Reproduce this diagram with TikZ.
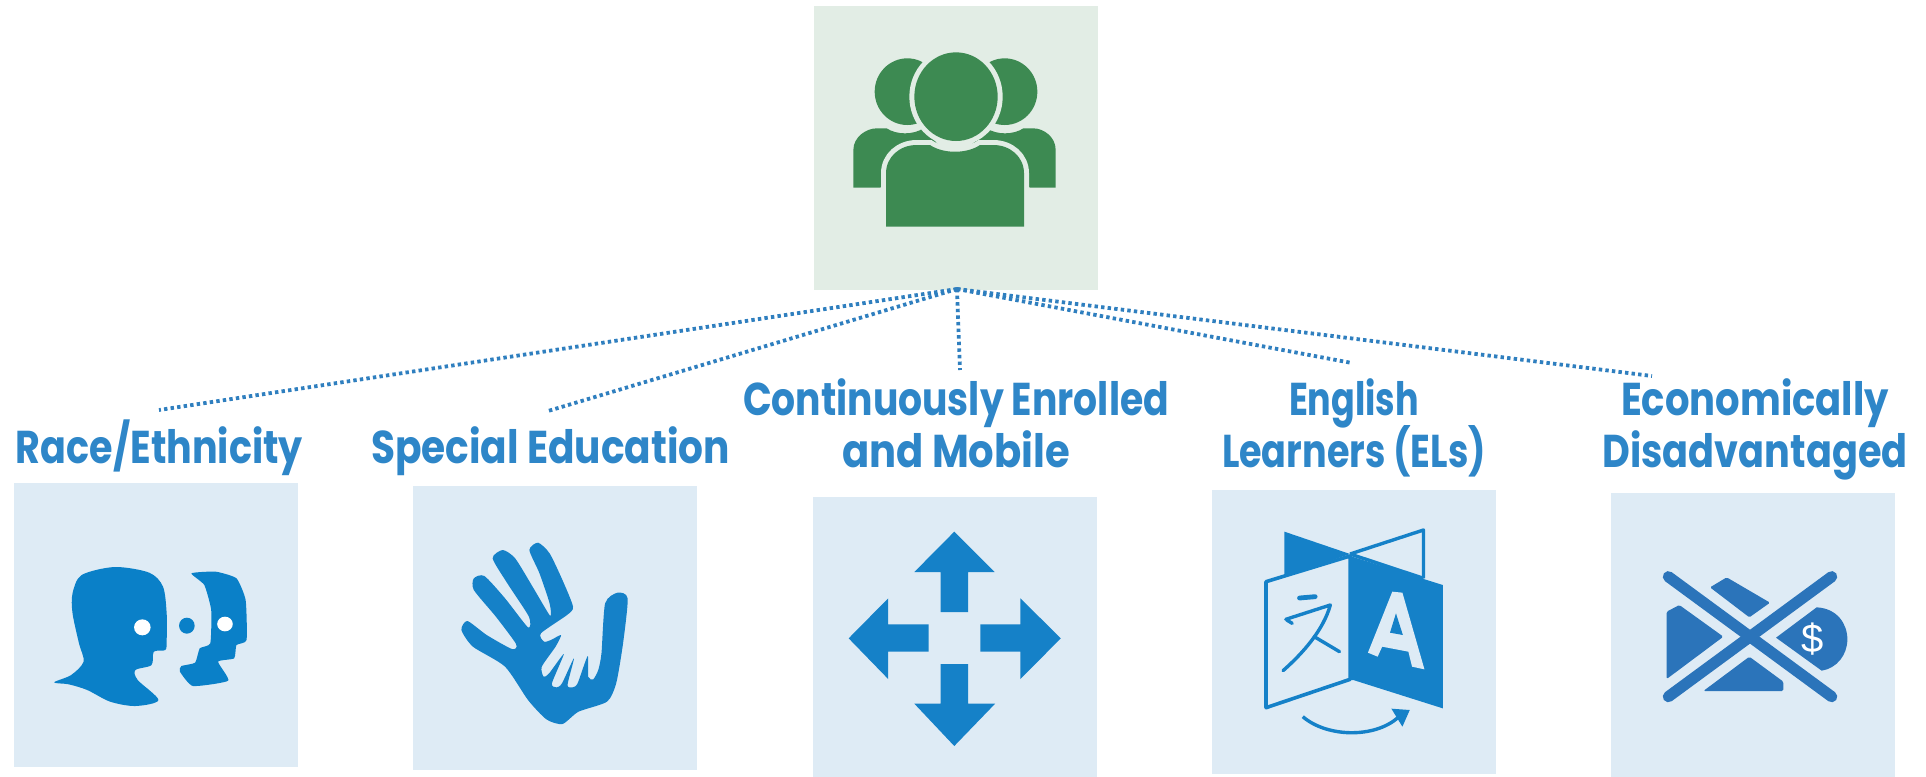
\documentclass[tikz,border=0pt]{standalone}
\usepackage{graphicx}
\usepackage{fontspec}
\setmainfont{Poppins}
\newfontfamily\dollarfont{Liberation Sans}
\definecolor{topbg}{HTML}{E2EDE5}
\definecolor{bluebg}{HTML}{DEEBF5}
\definecolor{peoplegreen}{HTML}{3D8A52}
\definecolor{iconblue}{HTML}{1581C8}
\definecolor{headblue}{HTML}{0A80C8}
\definecolor{econblue}{HTML}{2B74BA}
\definecolor{labelblue}{HTML}{2E86C8}
\definecolor{dotblue}{HTML}{2F7FBF}
\newsavebox\labbox
\newcommand{\fitlab}[2]{\sbox\labbox{#2}\pgfmathsetmacro\labratio{#1*0.5/\the\wd\labbox}\smash{\scalebox{\labratio}[1]{\usebox\labbox}}}
\tikzset{
  iconbox/.style={rectangle,inner sep=0pt,outer sep=0pt,minimum width=142pt,minimum height=142pt,fill=bluebg},
  toplabel/.style={anchor=base,align=center,inner sep=0pt,text=labelblue,font=\fontsize{23pt}{26pt}\selectfont\bfseries},
  dotline/.style={draw=dotblue,line width=1.9pt,dash pattern=on 1.7pt off 1.6pt},
}
\begin{document}
\begin{tikzpicture}[x=0.5pt,y=-0.5pt]
\useasboundingbox (0,0) rectangle (1926,776);
% boxes
\node[iconbox,fill=topbg] (top) at (955.5,148) {};
\node[iconbox] (race) at (155.5,625) {};
\node[iconbox] (sped) at (554.5,628) {};
\node[iconbox] (mob) at (954.5,639) {};
\node[iconbox] (el) at (1353.5,632) {};
\node[iconbox] (econ) at (1753,635) {};
% connectors
\coordinate (apex) at (957,289);
\coordinate (raceend) at (159,410);
\coordinate (spedend) at (548,411);
\coordinate (mobend) at (960,370);
\coordinate (elend) at (1352,363);
\coordinate (econend) at (1652,376);
\draw[dotline] (apex) -- (raceend);
\draw[dotline] (apex) -- (spedend);
\draw[dotline] (apex) -- (mobend);
\draw[dotline] (apex) -- (elend);
\draw[dotline] (apex) -- (econend);
% labels
\node[toplabel] (racelab) at (159.5,463) {\fitlab{287}{Race/Ethnicity}};
\node[toplabel] (spedlab) at (550.5,463) {\fitlab{359}{Special Education}};
\node[toplabel] (moblab) at (956,467) {\fitlab{426}{Continuously Enrolled}\\\fitlab{228}{and Mobile}};
\node[toplabel] (ellab) at (1354,467) {\fitlab{130}{English}\\\fitlab{264}{Learners (ELs)}};
\node[toplabel] (econlab) at (1755,467) {\fitlab{268}{Economically}\\\fitlab{305}{Disadvantaged}};
% people icon
\begin{scope}[shift={(780,0)},x=0.16667pt,y=-0.16667pt]
  \fill[peoplegreen] (382,275) ellipse (98 and 100);
  \fill[peoplegreen] (674,275) ellipse (98 and 100);
  \fill[peoplegreen] (220,563) -- (220,450) .. controls (220,410) and (260,385) .. (290,385) -- (320,385) .. controls (350,405) and (400,405) .. (430,385) -- (480,440) -- (300,563) -- cycle;
  \fill[peoplegreen] (827,563) -- (827,450) .. controls (827,410) and (790,385) .. (760,385) -- (730,385) .. controls (700,405) and (650,405) .. (620,385) -- (570,440) -- (750,563) -- cycle;
  \draw[topbg,line width=5pt] (318,680) -- (318,520) .. controls (318,470) and (360,435) .. (410,435) -- (450,435) .. controls (490,462) and (560,462) .. (600,435) -- (640,435) .. controls (690,435) and (732,470) .. (732,520) -- (732,680);
  \fill[peoplegreen] (318,680) -- (318,520) .. controls (318,470) and (360,435) .. (410,435) -- (450,435) .. controls (490,462) and (560,462) .. (600,435) -- (640,435) .. controls (690,435) and (732,470) .. (732,520) -- (732,680) -- cycle;
  \fill[topbg] (528,290) ellipse (140 and 148);
  \fill[peoplegreen] (528,290) ellipse (125 and 133);
\end{scope}
% heads
\begin{scope}[shift={(0,470)},x=0.22957pt,y=-0.16667pt]
  \fill[headblue] plot[smooth cycle,tension=0.5] coordinates {(118,637) (155,615) (182,575) (172,520) (158,430) (158,370) (178,315) (250,291) (325,308) (355,350) (363,430) (363,510) (360,540) (335,545) (330,585) (295,600) (300,630) (345,690) (295,708) (240,695) (190,660) (150,643)};
  \fill[white] (310,472) ellipse (18 and 24);
  \fill[headblue] (407,467) ellipse (17 and 24);
  \fill[headblue] plot[smooth cycle,tension=0.3] coordinates {(417,310) (470,305) (515,325) (535,390) (537,510) (515,525) (510,565) (475,575) (497,632) (420,648) (392,605) (395,588) (425,578) (435,535) (458,520) (460,420) (445,345)};
  \fill[white] (490,462) ellipse (17 and 22);
% hands
  \fill[iconblue] plot[smooth cycle,tension=0.4] coordinates {(1005,480) (1018,453) (1060,495) (1115,537) (1124,522) (1080,440) (1032,360) (1032,325) (1055,318) (1100,385) (1150,472) (1152,440) (1105,340) (1073,265) (1095,240) (1122,265) (1160,350) (1198,437) (1197,400) (1175,310) (1153,240) (1172,218) (1197,250) (1225,330) (1248,410) (1235,435) (1178,490) (1185,515) (1200,510) (1222,495) (1210,530) (1180,590) (1184,620) (1196,610) (1228,552) (1202,640) (1212,652) (1224,640) (1250,565) (1236,645) (1247,652) (1258,640) (1280,558) (1281,620) (1292,628) (1303,600) (1310,550) (1318,400) (1345,368) (1367,385) (1357,520) (1342,640) (1322,695) (1260,725) (1225,762) (1190,748) (1150,690) (1100,590) (1030,530)};
\end{scope}
% arrows and book
\begin{scope}[shift={(800,480)},x=0.22957pt,y=-0.16667pt]
  \fill[iconblue] (336,155) -- (424,276) -- (366,276) -- (366,396) -- (306,396) -- (306,276) -- (249,276) -- cycle;
  \fill[iconblue] (336,798) -- (425,671) -- (366,671) -- (366,552) -- (306,552) -- (306,671) -- (249,671) -- cycle;
  \fill[iconblue] (106,475) -- (192,355) -- (192,433) -- (280,433) -- (280,515) -- (192,515) -- (192,597) -- cycle;
  \fill[iconblue] (568,475) -- (480,355) -- (480,433) -- (393,433) -- (393,515) -- (480,515) -- (480,597) -- cycle;
  \fill[iconblue] (1055,155) -- (1198,222) -- (1055,290) -- cycle;
  \draw[iconblue,line width=1.7pt,line join=round] (1198,222) -- (1358,150) -- (1358,295);
  \draw[iconblue,line width=1.7pt] (1198,222) -- (1358,295);
  \draw[iconblue,line width=1.8pt,line join=round] (1015,305) -- (1198,228) -- (1198,598) -- (1015,683) -- cycle;
  \fill[iconblue] (1198,228) -- (1400,315) -- (1400,685) -- (1205,600) -- (1198,600) -- cycle;
  \fill[bluebg] (1290,335) -- (1312,338) -- (1360,568) -- (1333,560) -- (1325,515) -- (1268,500) -- (1258,530) -- (1237,518) -- cycle;
  \fill[iconblue] (1298,400) -- (1285,458) -- (1313,465) -- cycle;
  \draw[iconblue,line width=2.4pt,line cap=round] (1088,354) -- (1122,350);
  \draw[iconblue,line width=1.7pt,line cap=round,line join=round] (1058,418) -- (1155,375) .. controls (1140,450) and (1095,520) .. (1052,572);
  \draw[iconblue,line width=1.7pt,line cap=round] (1120,470) -- (1175,515);
  \draw[iconblue,line width=1.7pt,line cap=round] (1060,420) -- (1072,430);
  \draw[iconblue,line width=1.7pt] (1095,710) .. controls (1150,775) and (1260,775) .. (1308,705);
  \fill[iconblue] (1288,686) -- (1328,690) -- (1312,740) -- cycle;
\end{scope}
% econ
\begin{scope}[shift={(1600,480)},x=0.16667pt,y=-0.16667pt]
  \draw[econblue,line width=5.6pt,line cap=round] (205,290) -- (695,650);
  \draw[econblue,line width=5.6pt,line cap=round] (695,290) -- (205,650);
  \fill[econblue,rounded corners=0.7pt] (330,322) -- (380,292) -- (510,368) -- (448,412) -- cycle;
  \fill[econblue,rounded corners=0.7pt] (200,597) -- (200,395) -- (238,375) -- (370,470) -- cycle;
  \fill[econblue,rounded corners=0.7pt] (310,633) -- (448,530) -- (550,605) -- (550,633) -- cycle;
  \fill[econblue] (528,473) -- (650,382) .. controls (710,385) and (742,430) .. (742,478) .. controls (742,525) and (710,565) .. (665,572) -- cycle;
  \node[text=white,inner sep=0pt,font=\dollarfont\fontsize{20pt}{20pt}\selectfont] (dollar) at (638,478) {\$};
\end{scope}
\end{tikzpicture}
\end{document}
